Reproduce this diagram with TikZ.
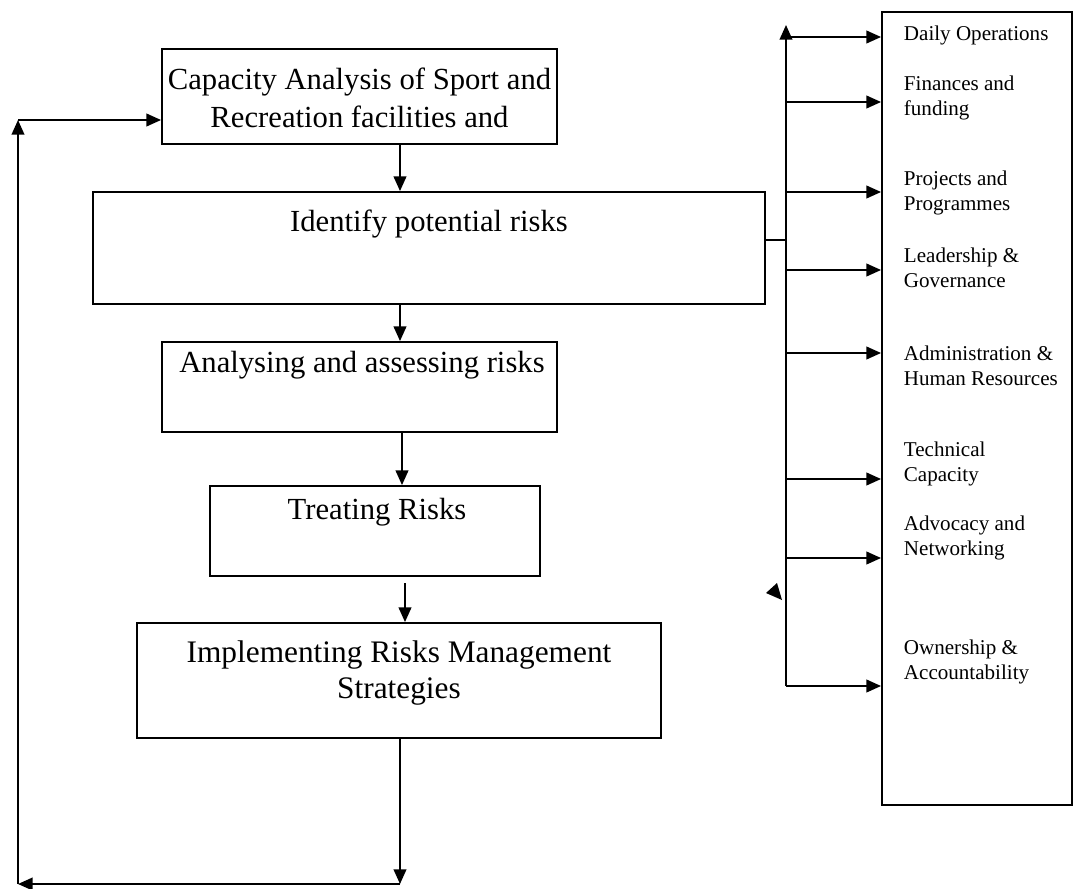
\documentclass[tikz,border=0pt]{standalone}
\usepackage{fontspec}
\setmainfont{Liberation Serif}
\usetikzlibrary{arrows.meta}

\tikzset{
  boxdim/.style 2 args={minimum width=#1*0.75pt, minimum height=#2*0.75pt},
  stepbox/.style={draw, line width=1.4pt, inner sep=0pt},
  steptext/.style={font=\fontsize{23}{28.5}\selectfont, align=center, inner sep=0pt},
  aspectlabel/.style={font=\fontsize{15.8}{18.75}\selectfont, align=left, anchor=west, inner sep=0pt}
}

\begin{document}
\begin{tikzpicture}[x=0.75pt,y=-0.75pt,line width=1.4pt,>={Triangle[length=11pt,width=9.5pt]}]
\useasboundingbox (0,0) rectangle (1075,889);
% process boxes
\node[stepbox,boxdim={395}{95}] (cap) at (359.5,96.5) {};
\node[steptext] (captext) at (359.5,98) {Capacity Analysis of Sport and\\Recreation facilities and};
\node[stepbox,boxdim={672}{112}] (risk) at (429,248) {};
\node[steptext] (risktext) at (429,224) {Identify potential risks};
\node[stepbox,boxdim={395}{90}] (assess) at (359.5,387) {};
\node[steptext] (assesstext) at (362,365) {Analysing and assessing risks};
\node[stepbox,boxdim={330}{90}] (treat) at (375,531) {};
\node[steptext] (treattext) at (377,512) {Treating Risks};
\node[stepbox,boxdim={524}{115}] (impl) at (399,680.5) {};
\node[steptext,font=\fontsize{23.5}{26.5}\selectfont] (impltext) at (399,673) {Implementing Risks Management\\Strategies};
% aspect box
\node[stepbox,boxdim={190}{793}] (aspect) at (977,408.5) {};
\node[aspectlabel] (daily) at (903,35) {Daily Operations};
\node[aspectlabel] (finance) at (903,98) {Finances and\\funding};
\node[aspectlabel] (projects) at (903,193) {Projects and\\Programmes};
\node[aspectlabel] (leader) at (903,268) {Leadership \&\\Governance};
\node[aspectlabel] (admin) at (903,366) {Administration \&\\Human Resources};
\node[aspectlabel] (tech) at (903,464) {Technical\\Capacity};
\node[aspectlabel] (advocacy) at (903,538) {Advocacy and\\Networking};
\node[aspectlabel] (owner) at (903,662) {Ownership \&\\Accountability};
% main flow
\coordinate (mainx) at (400,0);
\draw[->] (cap.south -| mainx) -- (risk.north -| mainx);
\draw[->] (risk.south -| mainx) -- (assess.north -| mainx);
\draw[->] (assess.south -| 402,0) -- (treat.north -| 402,0);
\coordinate (treatgap) at (405,583);
\draw[->] (treatgap) -- (impl.north -| treatgap);
% feedback loop
\coordinate (loopbr) at (400,884);
\coordinate (loopbl) at (18,884);
\coordinate (looptl) at (18,120);
\draw[->] (impl.south -| loopbr) -- (loopbr);
\draw[->] (loopbr) -- (loopbl);
\draw[->] (loopbl) -- (looptl);
\draw[->] (looptl) -- (looptl -| cap.west);
% bus to aspects
\coordinate (bustop) at (786,25);
\coordinate (busbot) at (786,686);
\draw[->] (busbot) -- (bustop);
\draw (risk.east |- 0,240) -- (bustop |- 0,240);
\foreach \y in {37,102,192,270,353,479,558,686}
  \draw[->] (bustop |- 0,\y) -- (aspect.west |- 0,\y);
\fill (766,593) -- (777,583) -- (782,600) -- cycle;
\end{tikzpicture}
\end{document}
